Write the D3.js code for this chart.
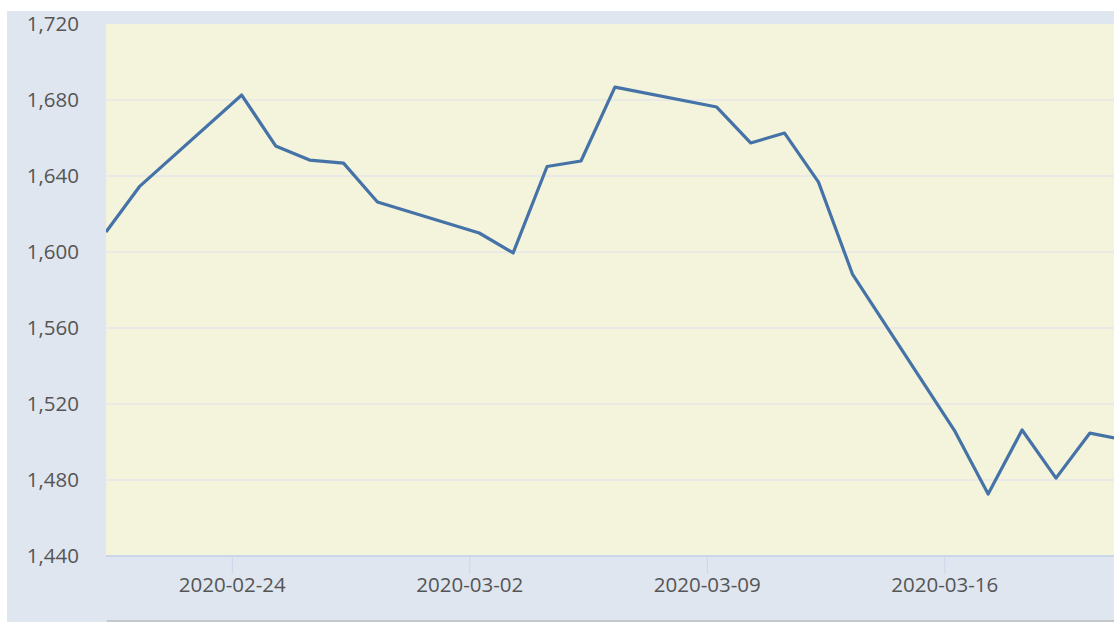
<!DOCTYPE html>
<html>
<head>
<meta charset="utf-8">
<script src="https://cdn.jsdelivr.net/npm/d3@7"></script>
<style>
  body { margin: 0; background: #fff; overflow: hidden; }
  text { font-family: "Open Sans", "Noto Sans", sans-serif; }
</style>
</head>
<body>
<svg class="chart" width="1114" height="624"></svg>
<script>
// trading days and closing values
var dates = ["2020-02-20", "2020-02-21", "2020-02-24", "2020-02-25", "2020-02-26", "2020-02-27",
             "2020-02-28", "2020-03-02", "2020-03-03", "2020-03-04", "2020-03-05", "2020-03-06",
             "2020-03-09", "2020-03-10", "2020-03-11", "2020-03-12", "2020-03-13", "2020-03-16",
             "2020-03-17", "2020-03-18", "2020-03-19", "2020-03-20", "2020-03-23"];
var values = [1610.5, 1634.7, 1682.6, 1655.8, 1648.4, 1646.8,
              1626.3, 1610, 1599.5, 1645, 1647.9, 1686.8,
              1676.3, 1657.4, 1662.6, 1636.8, 1588.4, 1506.3,
              1472.6, 1506.3, 1481, 1504.7, 1494];
var yTicks = [1440, 1480, 1520, 1560, 1600, 1640, 1680, 1720];
var xTicks = ["2020-02-24", "2020-03-02", "2020-03-09", "2020-03-16"];

var svg = d3.select(".chart"),
    margin = {top: 24, right: 0, bottom: 68, left: 106},
    width = +svg.attr("width") - margin.left - margin.right,
    height = +svg.attr("height") - margin.top - margin.bottom;

var parseDay = d3.timeParse("%Y-%m-%d");
// points sit a few hours after midnight (timezone shift in the source)
var data = dates.map(function(d, i) {
  return {date: d3.timeHour.offset(parseDay(d), 7), value: values[i]};
});

var dayPx = 237.5 / 7;
var x = d3.scaleTime()
    .domain([data[0].date, d3.timeDay.offset(data[0].date, 31)])
    .range([0, 31 * dayPx]);

var y = d3.scaleLinear()
    .domain([1440, 1720])
    .range([height, 0]);

// outer panel
svg.append("rect")
    .attr("x", 7).attr("y", 11)
    .attr("width", 1114 - 7).attr("height", 611)
    .attr("fill", "#dfe6ef");

var g = svg.append("g").attr("transform", "translate(" + margin.left + "," + margin.top + ")");

g.append("rect")
    .attr("width", width).attr("height", height)
    .attr("fill", "#f4f4dc");

// grid
g.append("g")
  .selectAll("line")
  .data(yTicks.slice(1, -1))
  .enter().append("line")
    .attr("x1", 0).attr("x2", width)
    .attr("y1", function(d) { return y(d); })
    .attr("y2", function(d) { return y(d); })
    .attr("stroke", "#e6e6ea")
    .attr("stroke-width", 1.5);

// y axis
var yAxis = g.append("g")
    .call(d3.axisLeft(y).tickValues(yTicks).tickFormat(d3.format(",")).tickSize(0).tickPadding(27));
yAxis.select(".domain").remove();
yAxis.selectAll("text").attr("fill", "#555").style("font-size", "20.5px");

// x axis
var xAxis = g.append("g")
    .attr("transform", "translate(0," + height + ")")
    .call(d3.axisBottom(x).tickValues(xTicks.map(parseDay)).tickFormat(d3.timeFormat("%Y-%m-%d"))
      .tickSize(18).tickPadding(3));
xAxis.select(".domain").attr("stroke", "#ccd6eb").attr("stroke-width", 2)
    .attr("d", "M0,0H" + width);
xAxis.selectAll(".tick line").attr("stroke", "#ccd6eb");
xAxis.selectAll("text").attr("fill", "#555").style("font-size", "20.5px");

// series
svg.append("clipPath").attr("id", "clip")
  .append("rect").attr("width", width).attr("height", height);

var line = d3.line()
    .x(function(d) { return x(d.date); })
    .y(function(d) { return y(d.value); });

g.append("path")
    .datum(data)
    .attr("clip-path", "url(#clip)")
    .attr("fill", "none")
    .attr("stroke", "#4572a7")
    .attr("stroke-width", 3.2)
    .attr("stroke-linejoin", "round")
    .attr("d", line);

// navigator edge at the bottom
svg.append("line")
    .attr("x1", 107).attr("x2", 1114)
    .attr("y1", 621).attr("y2", 621)
    .attr("stroke", "#c4c8cc").attr("stroke-width", 2);
</script>
</body>
</html>
